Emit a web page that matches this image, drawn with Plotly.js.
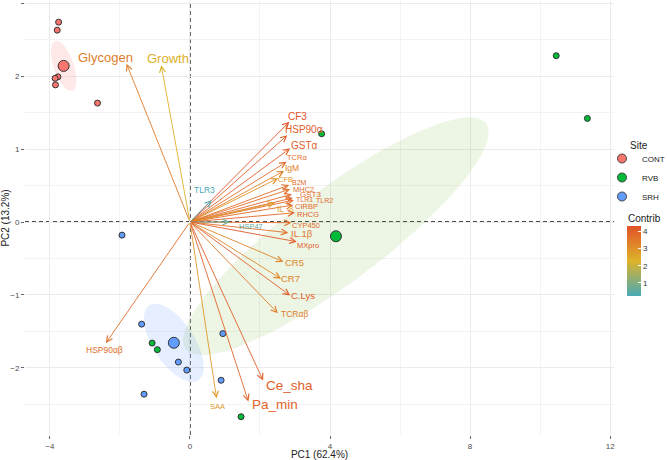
<!DOCTYPE html>
<html><head><meta charset="utf-8">
<script src="https://cdn.plot.ly/plotly-3.0.1.min.js"></script>
<style>html,body{margin:0;padding:0;background:#fff}#chart{width:667px;height:460px}</style>
</head><body><div id="chart"></div>
<script>
// ---- Individuals (PC1, PC2) by site ----
const siteNames = ['CONT','RVB','SRH'];
const contX = [-3.75,-3.79,-3.77,-3.85,-3.84,-2.64];
const contY = [2.74,2.63,1.99,1.97,1.88,1.63];
const rvbX  = [10.46,11.35,3.76,-1.08,-0.93,1.46];
const rvbY  = [2.28,1.42,1.21,-1.66,-1.75,-2.67];
const srhX  = [-1.38,-0.33,-0.09,-1.31,0.94,0.89,-1.94];
const srhY  = [-1.40,-1.92,-2.03,-2.36,-1.53,-2.17,-0.18];
// confidence ellipse half-axes (PC units), per site
const ellMajor = [[0.243,-0.342],[4.29,1.548],[0.70,-0.514]];
const ellMinor = [[0.271,0.044],[0.80,-0.51],[0.495,0.155]];

// ---- Variables ----
const varNames = ['Glycogen','Growth','CF3','HSP90α','GSTα','TCRα','IgM','CFB','B2M','MHC2','GST3','TLR1','TLR2','CIRBP','IL_8','RHCG','CYP450','HSP47','IL.1β','MXpro','CR5','CR7','C.Lys','TCRαβ','Ce_sha','Pa_min','SAA','HSP90αβ','TLR3'];
const varX = [-1.81,-0.82,2.84,2.78,2.86,2.76,2.69,2.52,2.83,2.86,2.91,2.94,2.97,2.95,2.43,3.00,2.90,1.14,2.81,3.05,2.67,2.60,2.86,2.51,2.09,1.67,0.76,-2.40,0.62];
const varY = [2.17,2.15,1.374,1.19,1.01,0.826,0.70,0.60,0.507,0.45,0.38,0.33,0.30,0.233,0.26,0.127,-0.01,0.0,-0.146,-0.27,-0.544,-0.777,-1.007,-1.25,-2.174,-2.46,-2.415,-1.66,0.30];
const varContrib = [3.4,2.3,4.3,4.0,4.0,3.7,3.3,2.9,3.7,3.7,3.8,3.8,3.8,3.8,2.6,3.9,3.7,0.56,3.6,4.1,3.2,3.2,4.0,3.4,4.0,3.9,2.8,3.7,0.2];

// ---- styles (label offsets in px, font sizes) ----
const siteColors = ['#F8766D','#00BA38','#619CFF'];
const ellFill = ['rgba(248,118,109,0.16)','rgba(105,172,30,0.12)','rgba(97,156,255,0.16)'];
const labelOff = [[-21,-6],[7,-7],[8,-5],[17,-6],[14,-3],[10,-4],[8,-3],[7,1],[10,-3],[13,0],[19,0],[12,2],[31,0],[13,1],[10,6],[13,2],[15,3],[21,4],[14,1],[11,4],[11,1],[10,0],[13,0],[17,1],[26,5],[27,3],[1,8],[-1,7],[-7,-10]];
const labelSize = [13,13,10,10,10,7.5,8.5,7.5,7,7.5,8,7,7,7.5,8.5,7.5,7.5,7.5,9.5,7.5,9.5,9.5,9.5,8.5,13.5,13.5,7.5,8.5,8.5];
const scaleStops = [[0,'#4AAAB6'],[0.5,'#DDB32A'],[1,'#E2522A']];

const cmin = Math.min(...varContrib), cmax = Math.max(...varContrib);
function hex2rgb(h){return [1,3,5].map(k=>parseInt(h.substr(k,2),16));}
function colorFor(v){
  const t = (v-cmin)/(cmax-cmin);
  const i = t <= 0.5 ? 0 : 1;
  const a = scaleStops[i], b = scaleStops[i+1];
  const f = (t-a[0])/(b[0]-a[0]);
  const ca = hex2rgb(a[1]), cb = hex2rgb(b[1]);
  const rgb = ca.map((c,k)=>Math.round(c+(cb[k]-c)*f));
  return 'rgb('+rgb.join(',')+')';
}
const mean = arr => arr.reduce((s,v)=>s+v,0)/arr.length;

const groupsX = [contX,rvbX,srhX], groupsY = [contY,rvbY,srhY];
const traces = [];
groupsX.forEach((gx,g)=>{
  const cx = mean(gx), cy = mean(groupsY[g]);
  const ex=[], ey=[];
  for(let k=0;k<=100;k++){
    const t = 2*Math.PI*k/100;
    ex.push(cx + Math.cos(t)*ellMajor[g][0] + Math.sin(t)*ellMinor[g][0]);
    ey.push(cy + Math.cos(t)*ellMajor[g][1] + Math.sin(t)*ellMinor[g][1]);
  }
  traces.push({x:ex,y:ey,mode:'lines',fill:'toself',fillcolor:ellFill[g],line:{width:0,color:'rgba(0,0,0,0)'},hoverinfo:'skip',showlegend:false});
});
groupsX.forEach((gx,g)=>{
  traces.push({x:gx,y:groupsY[g],mode:'markers',marker:{size:6,color:siteColors[g],line:{color:'#333',width:1}},showlegend:false,hoverinfo:'skip'});
});
groupsX.forEach((gx,g)=>{
  traces.push({x:[mean(gx)],y:[mean(groupsY[g])],mode:'markers',marker:{size:11,color:siteColors[g],line:{color:'#333',width:1}},showlegend:false,hoverinfo:'skip'});
});
siteNames.forEach((n,g)=>{
  traces.push({x:[null],y:[null],mode:'markers',name:n,marker:{size:9,color:siteColors[g],line:{color:'#444',width:1}}});
});
traces.push({x:varX,y:varY,mode:'markers',showlegend:false,hoverinfo:'skip',
  marker:{size:2,opacity:0,color:varContrib,cmin:cmin,cmax:cmax,colorscale:scaleStops,showscale:true,
    colorbar:{thickness:14,len:70,lenmode:'pixels',
      x:627/667,xref:'container',xanchor:'left',y:1-240/460,yref:'container',yanchor:'top',
      outlinewidth:0,tickvals:[1,2,3,4],ticks:'inside',ticklen:3,tickcolor:'#fff',tickfont:{size:8,color:'#333'},xpad:0,ypad:0}}});

const annotations = [];
varNames.forEach((n,i)=>{
  annotations.push({x:varX[i],y:varY[i],ax:0,ay:0,xref:'x',yref:'y',axref:'x',ayref:'y',text:'',showarrow:true,
    arrowhead:5,arrowsize:1.3,arrowwidth:0.9,arrowcolor:colorFor(varContrib[i]),standoff:0});
});
varNames.forEach((n,i)=>{
  annotations.push({x:varX[i],y:varY[i],xref:'x',yref:'y',text:n,showarrow:false,
    xshift:labelOff[i][0],yshift:-labelOff[i][1],font:{size:labelSize[i],color:colorFor(varContrib[i])}});
});
// legend / colorbar titles
annotations.push({xref:'paper',yref:'paper',x:(628-25)/589,y:(460-25-145)/434,xanchor:'left',yanchor:'middle',text:'Site',showarrow:false,font:{size:10,color:'#222'}});
annotations.push({xref:'paper',yref:'paper',x:(626-25)/589,y:(460-25-218)/434,xanchor:'left',yanchor:'middle',text:'Contrib',showarrow:false,font:{size:10,color:'#222'}});

const gridc = '#EBEBEB';
const layout = {
  width:667,height:460,margin:{l:25,r:53,t:1,b:25,autoexpand:false},
  paper_bgcolor:'#fff',plot_bgcolor:'#fff',
  font:{family:'Liberation Sans, Arial, sans-serif',color:'#333'},
  xaxis:{range:[-4.71,12.11],tickvals:[-4,0,4,8,12],showgrid:true,gridcolor:gridc,gridwidth:1,zeroline:false,
    minor:{dtick:2,tick0:0,showgrid:true,gridcolor:gridc,gridwidth:0.6},
    ticks:'outside',ticklen:3,tickcolor:'#666',tickfont:{size:8,color:'#4D4D4D'},showline:false,
    title:{text:'PC1 (62.4%)',font:{size:10,color:'#222'},standoff:4},automargin:false},
  yaxis:{range:[-2.92,3.03],dtick:1,tick0:0,showgrid:true,gridcolor:gridc,gridwidth:1,zeroline:false,
    minor:{dtick:0.5,tick0:0,showgrid:true,gridcolor:gridc,gridwidth:0.6},
    ticks:'outside',ticklen:3,tickcolor:'#666',tickfont:{size:8,color:'#4D4D4D'},showline:false,
    title:{text:'PC2 (13.2%)',font:{size:10,color:'#222'},standoff:3},automargin:false},
  shapes:[
    {type:'line',xref:'x',yref:'paper',x0:0,x1:0,y0:0,y1:1,line:{color:'#111',width:1.4,dash:'4px,3px'},layer:'below'},
    {type:'line',xref:'paper',yref:'y',x0:0,x1:1,y0:0,y1:0,line:{color:'#111',width:1.4,dash:'4px,3px'},layer:'below'}
  ],
  legend:{font:{size:8,color:'#222'},x:602/667,xref:'container',xanchor:'left',
    y:1-144/460,yref:'container',yanchor:'top',itemwidth:30,tracegroupgap:0,bgcolor:'rgba(0,0,0,0)'},
  annotations:annotations,
  showlegend:true
};
Plotly.newPlot('chart',traces,layout,{displayModeBar:false,staticPlot:true});
</script></body></html>
